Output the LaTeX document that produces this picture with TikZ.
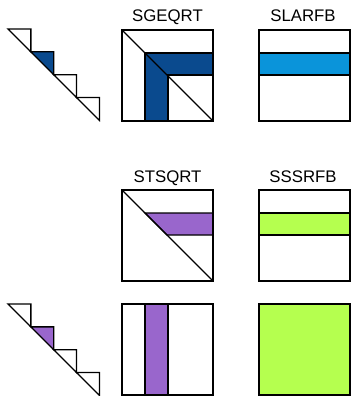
\documentclass[tikz,border=0pt]{standalone}
\usepackage{fontspec}
\setmainfont{Liberation Sans}
\definecolor{dblue}{HTML}{0A4A8E}
\definecolor{lblue}{HTML}{0A94DA}
\definecolor{purp}{HTML}{9966CC}
\definecolor{lgreen}{HTML}{B5FF4F}
\begin{document}
\begin{tikzpicture}[x=1pt,y=-1pt,line width=1.3pt,line join=miter,
  lab/.style={font=\fontsize{16.8}{19}\selectfont,anchor=base,inner sep=0pt},
  blk/.style={draw=black}]
\useasboundingbox (0,0) rectangle (351,396);
% ---------- staircases ----------
\def\s{22.85}
\foreach \yy/\col in {29/dblue,304/purp}{
  \foreach \i in {0,1,2,3}{
    \pgfmathsetmacro{\xa}{8+\s*\i}
    \pgfmathsetmacro{\ya}{\yy+\s*\i}
    \pgfmathsetmacro{\xb}{8+\s*(\i+1)}
    \pgfmathsetmacro{\yb}{\yy+\s*(\i+1)}
    \ifnum\i=1
      \filldraw[fill=\col,blk] (\xa,\ya) -- (\xb,\ya) -- (\xb,\yb) -- cycle;
    \else
      \draw[blk] (\xa,\ya) -- (\xb,\ya) -- (\xb,\yb) -- cycle;
    \fi
  }
}
% ---------- SGEQRT ----------
\node[lab] (sgeqrt) at (167.5,22) {SGEQRT};
\filldraw[fill=dblue,blk] (145,53) -- (213,53) -- (213,75) -- (168,75) -- (168,121) -- (145,121) -- cycle;
\draw[blk] (122,30) rectangle (213,121);
\draw[blk] (122,30) -- (213,121);
% ---------- SLARFB ----------
\node[lab] (slarfb) at (303,22) {SLARFB};
\filldraw[fill=lblue,blk] (259,53) rectangle (350,75);
\draw[blk] (259,30) rectangle (350,121);
% ---------- STSQRT ----------
\node[lab] (stsqrt) at (167.5,182) {STSQRT};
\filldraw[fill=purp,blk] (145,213) -- (213,213) -- (213,235) -- (167,235) -- cycle;
\draw[blk] (122,190) rectangle (213,281);
\draw[blk] (122,190) -- (213,281);
% ---------- SSSRFB ----------
\node[lab] (sssrfb) at (303,182) {SSSRFB};
\filldraw[fill=lgreen,blk] (259,213) rectangle (350,235);
\draw[blk] (259,190) rectangle (350,281);
% ---------- bottom row ----------
\filldraw[fill=purp,blk] (145,304) rectangle (168,395);
\draw[blk] (122,304) rectangle (213,395);
\filldraw[fill=lgreen,blk] (259,304) rectangle (350,395);
\end{tikzpicture}
\end{document}
